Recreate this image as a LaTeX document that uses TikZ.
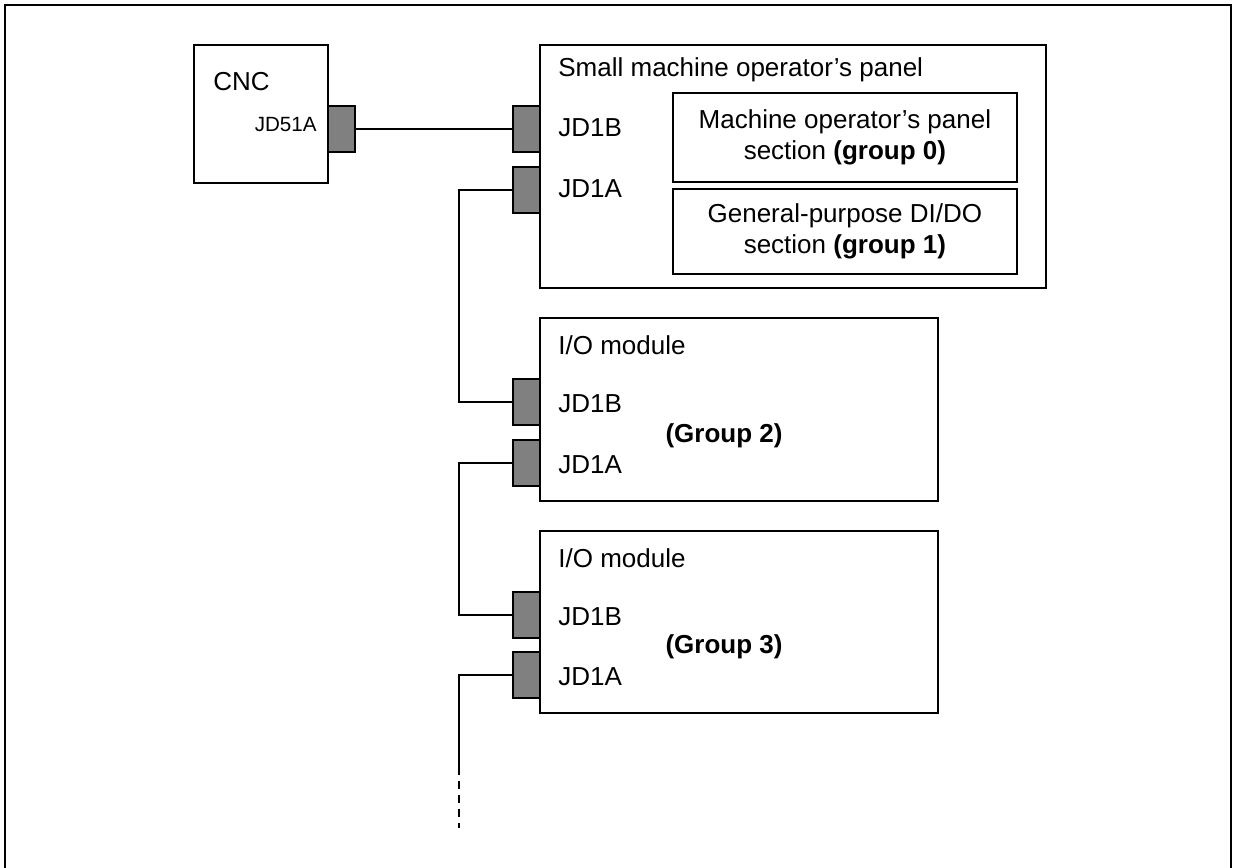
\documentclass[tikz,border=0pt]{standalone}
\usepackage{fontspec}
\setmainfont{Liberation Sans}
\begin{document}
\begin{tikzpicture}[
    x=0.5pt, y=-0.5pt,
    unit/.style={rectangle, draw, line width=0.9pt, anchor=north west, inner sep=0pt},
    jack/.style={rectangle, draw, line width=0.9pt, fill=black!50, anchor=north west,
      inner sep=0pt, minimum width=13.5pt, minimum height=23pt},
    section/.style={unit, align=center, minimum width=172pt},
    lbl/.style={anchor=west, inner sep=0pt},
    wire/.style={line width=0.7pt},
    font=\fontsize{13}{15.6}\selectfont
  ]
  \useasboundingbox (0,0) rectangle (1233,868);
  \draw[line width=1.3pt] (5,868) -- (5,5) -- (1231,5) -- (1231,868);
  % CNC
  \node[unit, minimum width=67pt, minimum height=69pt] (cnc) at (193,44) {};
  \node[lbl] (cncname) at (213,82) {CNC};
  \node[jack] (cncJ) at (327,105) {};
  \node[anchor=east, inner sep=0pt, font=\fontsize{10.3}{12}\selectfont] (cncJlbl) at (317,125) {JD51A};
  % small machine operator's panel
  \node[unit, minimum width=253pt, minimum height=121.5pt] (panel) at (539,44) {};
  \node[lbl] (panelname) at (558,70) {Small machine operator’s panel};
  \node[section, minimum height=44.5pt] (grp0) at (672,92)
    {Machine operator’s panel\\section \textbf{(group 0)}};
  \node[section, minimum height=42.5pt] (grp1) at (672,188)
    {General-purpose DI/DO\\section \textbf{(group 1)}};
  \node[jack] (pB) at (512,105) {};
  \node[jack] (pA) at (512,166) {};
  \node[lbl] at (558,128) {JD1B};
  \node[lbl] at (558,189) {JD1A};
  % I/O module (group 2)
  \node[unit, minimum width=199pt, minimum height=91.5pt] (io1) at (539,317) {};
  \node[lbl] at (558,345) {I/O module};
  \node[jack] (io1B) at (512,378) {};
  \node[jack] (io1A) at (512,439) {};
  \node[lbl] at (558,404) {JD1B};
  \node[lbl] at (558,465) {JD1A};
  \node[inner sep=0pt] at (724,436) {\textbf{(Group 2)}};
  % I/O module (group 3)
  \node[unit, minimum width=199pt, minimum height=91pt] (io2) at (539,530) {};
  \node[lbl] at (558,558) {I/O module};
  \node[jack] (io2B) at (512,591) {};
  \node[jack] (io2A) at (512,651) {};
  \node[lbl] at (558,617) {JD1B};
  \node[lbl] at (558,677) {JD1A};
  \node[inner sep=0pt] at (724,647) {\textbf{(Group 3)}};
  % cables
  \coordinate (bus) at (459,0);
  \coordinate (tail) at (459,767);
  \coordinate (more) at (459,828);
  \draw[wire] (cncJ.east) -- (pB.west);
  \draw[wire] (pA.west) -- (pA.west -| bus) |- (io1B.west);
  \draw[wire] (io1A.west) -- (io1A.west -| bus) |- (io2B.west);
  \draw[wire] (io2A.west) -| (tail);
  \draw[wire, dash pattern=on 4pt off 3pt] (tail) -- (more);
\end{tikzpicture}
\end{document}
